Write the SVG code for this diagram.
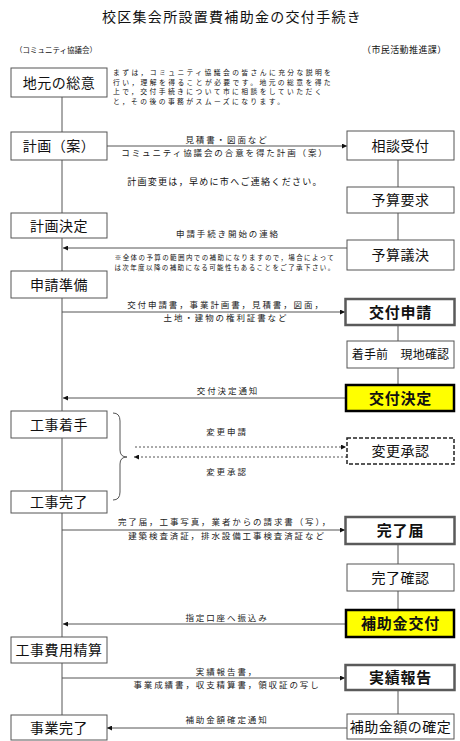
<svg xmlns="http://www.w3.org/2000/svg" width="460" height="741" viewBox="0 0 460 741">
<style>
.t{font-family:"Noto Sans CJK JP","Noto Sans CJK SC",sans-serif;fill:#111}
.ttl{font-size:14px;text-anchor:middle;letter-spacing:1.3px}
.bx{font-size:14px;text-anchor:middle;letter-spacing:0.5px}
.bb{font-size:15px;text-anchor:middle;letter-spacing:0.8px;font-weight:bold}
.lb{font-size:8.5px;text-anchor:middle;letter-spacing:1.9px;fill:#222}
.box{fill:#fff;stroke:#555;stroke-width:1}
.strong{fill:#fff;stroke:#5a5a5a;stroke-width:2.5}
.yel{fill:#ffff00;stroke:#000;stroke-width:2.5}
.dsh{fill:#fff;stroke:#222;stroke-width:1.5;stroke-dasharray:4 2}
.ln{stroke:#555;stroke-width:1;fill:none}
.ar{stroke:#555;stroke-width:1;fill:none;marker-end:url(#ah)}
.dar{stroke:#555;stroke-width:1;fill:none;stroke-dasharray:2 2;marker-end:url(#ah)}
</style>
<defs>
<marker id="ah" viewBox="0 0 10 10" refX="10" refY="5" markerWidth="6" markerHeight="5" markerUnits="userSpaceOnUse" orient="auto">
<path d="M0,0 L10,5 L0,10 z" fill="#111"/>
</marker>
</defs>
<rect width="460" height="741" fill="#fff"/>

<text class="t ttl" x="232" y="22.3">校区集会所設置費補助金の交付手続き</text>
<text class="t" x="15" y="52.8" style="font-size:7.5px">（コミュニティ協議会）</text>
<text class="t" x="362" y="53.4" style="font-size:9px;letter-spacing:0.4px">（市民活動推進課）</text>

<g id="note-intro">
<text class="t" style="font-size:6.8px;letter-spacing:2.4px"><tspan x="113" y="74.6">まずは，コミュニティ協議会の皆さんに充分な説明を</tspan><tspan x="113" y="84.5">行い，理解を得ることが必要です。地元の総意を得た</tspan><tspan x="113" y="94.4">上で，交付手続きについて市に相談をしていただく</tspan><tspan x="113" y="104.3">と，その後の事務がスムーズになります。</tspan></text>
</g>

<g id="connectors">
<line class="ln" x1="62" y1="97" x2="62" y2="715"/>
<line class="ln" x1="398" y1="160" x2="398" y2="187"/>
<line class="ln" x1="398" y1="213" x2="398" y2="240"/>
<line class="ln" x1="398" y1="325" x2="398" y2="341"/>
<line class="ln" x1="398" y1="368" x2="398" y2="384"/>
<line class="ln" x1="398" y1="545" x2="398" y2="564"/>
<line class="ln" x1="398" y1="591" x2="398" y2="610"/>
<line class="ln" x1="398" y1="690" x2="398" y2="714"/>
<line class="ar" x1="107" y1="146" x2="347" y2="146"/>
<line class="ar" x1="347" y1="248" x2="63" y2="248"/>
<line class="ar" x1="62" y1="312" x2="345" y2="312"/>
<line class="ar" x1="346" y1="398" x2="63" y2="398"/>
<line class="dar" x1="135" y1="447" x2="346" y2="447"/>
<line class="dar" x1="347" y1="457" x2="134" y2="457"/>
<line class="ar" x1="62" y1="530" x2="345" y2="530"/>
<line class="ar" x1="346" y1="624" x2="63" y2="624"/>
<line class="ar" x1="62" y1="678" x2="345" y2="678"/>
<line class="ar" x1="347" y1="728" x2="107" y2="728"/>
<path class="ln" d="M113,413 Q120,413 120,421 L120,450 Q120,457 127,457 Q120,457 120,464 L120,492 Q120,500 113,500"/>
</g>

<g id="labels" class="t">
<text class="lb" x="227" y="143.2">見積書・図面など</text>
<text class="lb" x="225" y="156.2">コミュニティ協議会の合意を得た計画（案）</text>
<text class="t" x="225" y="185.4" style="font-size:9px;letter-spacing:1.3px;text-anchor:middle">計画変更は，早めに市へご連絡ください。</text>
<text class="lb" x="228" y="237.2">申請手続き開始の連絡</text>
<text class="t" x="225" y="259.5" style="font-size:6.5px;letter-spacing:1.4px;text-anchor:middle">※全体の予算の範囲内での補助になりますので，場合によって</text>
<text class="t" x="225" y="269.5" style="font-size:6.5px;letter-spacing:1.4px;text-anchor:middle">は次年度以降の補助になる可能性もあることをご了承下さい。</text>
<text class="lb" x="226" y="308.2">交付申請書，事業計画書，見積書，図面，</text>
<text class="lb" x="226" y="321.2">土地・建物の権利証書など</text>
<text class="lb" x="228" y="394.2">交付決定通知</text>
<text class="lb" x="227" y="435.2">変更申請</text>
<text class="lb" x="227" y="474.5">変更承認</text>
<text class="lb" x="225" y="525.2">完了届，工事写真，業者からの請求書（写），</text>
<text class="lb" x="227" y="539.2">建築検査済証，排水設備工事検査済証など</text>
<text class="lb" x="227" y="621.2">指定口座へ振込み</text>
<text class="lb" x="227" y="675.2">実績報告書，</text>
<text class="lb" x="227" y="688.2">事業成績書，収支精算書，領収証の写し</text>
<text class="lb" x="227" y="723.2">補助金額確定通知</text>
</g>

<g id="n-jimoto"><rect class="box" x="11" y="68" width="96" height="29"/><text class="t bx" x="59" y="87.8">地元の総意</text></g>
<g id="n-keikaku-an"><rect class="box" x="11" y="132" width="96" height="28"/><text class="t bx" x="59" y="151.3">計画（案）</text></g>
<g id="n-keikaku-kettei"><rect class="box" x="11" y="213" width="96" height="25"/><text class="t bx" x="59" y="230.8">計画決定</text></g>
<g id="n-shinsei-junbi"><rect class="box" x="11" y="271" width="96" height="27"/><text class="t bx" x="59" y="289.8">申請準備</text></g>
<g id="n-koji-chakushu"><rect class="box" x="11" y="411" width="96" height="27"/><text class="t bx" x="59" y="429.8">工事着手</text></g>
<g id="n-koji-kanryo"><rect class="box" x="11" y="491" width="96" height="22"/><text class="t bx" x="59" y="507.3">工事完了</text></g>
<g id="n-koji-seisan"><rect class="box" x="11" y="637" width="96" height="26"/><text class="t bx" x="59" y="655.3">工事費用精算</text></g>
<g id="n-jigyo-kanryo"><rect class="box" x="11" y="715" width="96" height="25"/><text class="t bx" x="59" y="732.8">事業完了</text></g>

<g id="n-sodan"><rect class="box" x="347" y="131" width="107" height="29"/><text class="t bx" x="400.5" y="150.8">相談受付</text></g>
<g id="n-yosan-yokyu"><rect class="box" x="347" y="187" width="107" height="26"/><text class="t bx" x="400.5" y="205.3">予算要求</text></g>
<g id="n-yosan-giketsu"><rect class="box" x="347" y="240" width="107" height="30"/><text class="t bx" x="400.5" y="260.3">予算議決</text></g>
<g id="n-kofu-shinsei"><rect class="strong" x="345.5" y="299" width="109" height="26"/><text class="t bb" x="400.5" y="317.7">交付申請</text></g>
<g id="n-genchi"><rect class="box" x="347" y="341" width="107" height="27"/><text class="t" x="400.5" y="359" style="font-size:12px;text-anchor:middle;letter-spacing:0.2px">着手前　現地確認</text></g>
<g id="n-kofu-kettei"><rect class="yel" x="346" y="385" width="108" height="26"/><text class="t bb" x="400.5" y="403.7">交付決定</text></g>
<g id="n-henko"><rect class="dsh" x="347" y="438" width="107" height="26"/><text class="t bx" x="400.5" y="456.3">変更承認</text></g>
<g id="n-kanryo-todoke"><rect class="strong" x="345.5" y="517" width="109" height="27"/><text class="t bb" x="400.5" y="536.2">完了届</text></g>
<g id="n-kanryo-kakunin"><rect class="box" x="347" y="564" width="107" height="27"/><text class="t bx" x="400.5" y="582.8">完了確認</text></g>
<g id="n-hojokin-kofu"><rect class="yel" x="346" y="610" width="108" height="27"/><text class="t bb" x="400.5" y="629.2">補助金交付</text></g>
<g id="n-jisseki"><rect class="strong" x="345.5" y="665" width="109" height="25"/><text class="t bb" x="400.5" y="683.2">実績報告</text></g>
<g id="n-kakutei"><rect class="box" x="347" y="714" width="107" height="25"/><text class="t bx" x="400.5" y="731.8">補助金額の確定</text></g>
</svg>
